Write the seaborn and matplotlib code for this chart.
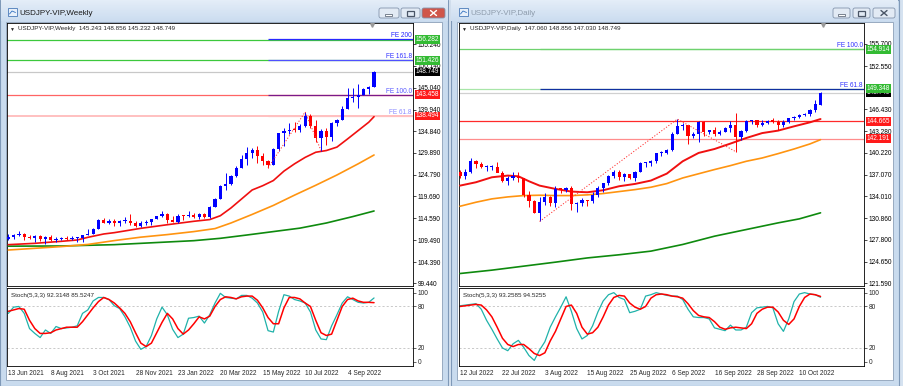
import numpy as np
import pandas as pd
import matplotlib
matplotlib.use("Agg")
import matplotlib.pyplot as plt
import seaborn as sns
from matplotlib.patches import Rectangle, FancyBboxPatch
from matplotlib.colors import LinearSegmentedColormap

sns.set_style("white")
plt.rcParams['font.family'] = ['Liberation Sans', 'DejaVu Sans']

# ==========================================
# weekly chart data (USDJPY-VIP, Weekly)
# ==========================================
W_OPEN = [109.66, 110.21, 110.76, 111.05, 110.14, 110.07, 110.55, 109.71, 110.22, 109.58,
          109.78, 109.84, 109.71, 109.93, 109.93, 110.73, 111.05, 112.21, 114.21, 113.50,
          114.00, 113.40, 113.86, 114.00, 113.40, 112.80, 113.40, 113.70, 114.40, 115.10,
          115.55, 114.20, 113.70, 115.25, 115.20, 115.40, 115.00, 115.55, 114.80, 117.30,
          119.20, 122.05, 122.50, 124.35, 126.40, 128.50, 129.80, 130.55, 129.20, 127.85,
          127.10, 130.85, 134.40, 134.98, 135.22, 135.20, 136.10, 138.55, 136.10, 133.27,
          135.00, 133.48, 136.90, 137.60, 140.20, 142.55, 142.90, 143.40, 144.70, 145.243]
W_HIGH = [110.82, 110.98, 111.66, 111.10, 110.70, 110.59, 110.60, 110.37, 110.80, 110.25,
          110.25, 110.42, 110.45, 110.15, 110.79, 112.08, 112.25, 114.47, 114.70, 114.32,
          114.45, 114.20, 114.97, 115.52, 113.90, 113.95, 114.26, 114.51, 115.20, 116.35,
          115.84, 115.06, 115.69, 115.40, 116.34, 115.80, 115.73, 115.81, 117.36, 119.40,
          122.44, 125.10, 124.70, 126.68, 129.40, 131.25, 131.00, 131.35, 129.77, 128.10,
          130.99, 134.56, 135.59, 136.71, 137.00, 136.57, 139.39, 138.88, 137.46, 135.50,
          135.58, 137.00, 137.70, 140.80, 144.99, 144.96, 145.90, 144.93, 145.43, 148.856]
W_LOW = [109.55, 109.72, 110.42, 109.53, 109.72, 109.07, 109.36, 108.72, 109.42, 109.11,
         109.57, 109.58, 109.59, 109.11, 109.11, 110.60, 110.82, 112.10, 113.41, 113.26,
         112.73, 112.72, 113.59, 113.06, 112.53, 112.60, 113.15, 113.12, 114.36, 115.00,
         113.48, 113.64, 113.47, 114.16, 114.90, 114.56, 114.40, 114.65, 114.70, 117.25,
         119.00, 121.20, 122.40, 124.30, 126.30, 126.95, 128.60, 127.50, 126.95, 126.36,
         127.10, 130.40, 131.49, 134.27, 134.75, 134.82, 136.00, 135.60, 132.50, 130.39,
         131.73, 132.56, 136.10, 137.60, 140.10, 141.70, 140.35, 143.30, 143.50, 145.232]
W_CLOSE = [110.21, 110.78, 111.05, 110.14, 110.07, 110.55, 109.71, 110.22, 109.58, 109.78,
           109.84, 109.71, 109.93, 109.93, 110.73, 111.05, 112.21, 114.21, 113.50, 114.00,
           113.40, 113.86, 114.00, 113.40, 112.80, 113.40, 113.70, 114.40, 115.10, 115.55,
           114.20, 113.70, 115.25, 115.20, 115.40, 115.00, 115.55, 114.80, 117.30, 119.20,
           122.05, 122.50, 124.35, 126.40, 128.50, 129.80, 130.55, 129.20, 127.85, 127.10,
           130.85, 134.40, 134.98, 135.22, 135.20, 136.10, 138.55, 136.10, 133.27, 135.00,
           133.48, 136.90, 137.60, 140.20, 142.55, 142.90, 143.40, 144.70, 145.24, 148.749]

W_MA_RED_BAR = [0, 5, 10, 13, 15, 18, 20, 25, 30, 35, 38, 40, 42, 44, 46, 48, 50, 52, 54, 56,
                58, 60, 62, 64, 66, 68, 69]
W_MA_RED = [108.45, 108.76, 109.23, 109.54, 110.16, 110.94, 111.25, 112.26, 113.10, 113.90,
            114.30, 115.20, 117.00, 119.10, 121.20, 122.20, 123.40, 125.60, 127.30, 128.80,
            130.00, 130.40, 131.20, 133.10, 135.05, 137.00, 138.30]
W_MA_ORANGE_BAR = [0, 5, 10, 15, 20, 25, 30, 35, 39, 42, 46, 50, 54, 58, 62, 66, 69]
W_MA_ORANGE = [107.20, 107.60, 108.00, 108.50, 109.40, 110.20, 110.80, 111.50, 112.20, 113.50,
               115.50, 117.60, 120.00, 122.30, 124.70, 127.30, 129.36]
W_MA_GREEN_BAR = [0, 10, 15, 20, 25, 30, 35, 40, 45, 50, 55, 60, 65, 69]
W_MA_GREEN = [108.10, 108.14, 108.30, 108.45, 108.76, 109.07, 109.38, 109.93, 110.70, 111.50,
              112.30, 113.50, 115.00, 116.30]

W_STOCH_K = [70, 79, 80, 70, 48, 41, 35, 46, 41, 51, 48, 49, 50, 52, 70, 75, 88, 93, 93, 90,
             81, 77, 65, 50, 30, 18, 22, 38, 62, 79, 68, 47, 35, 40, 63, 64, 66, 56, 68, 85,
             99, 93, 92, 91, 96, 96, 92, 85, 72, 45, 43, 73, 97, 95, 90, 88, 85, 72, 46, 33,
             32, 52, 68, 85, 94, 90, 86, 85, 86, 92.3]
W_STOCH_D = [73, 75, 77, 76, 60, 48, 41, 41, 42, 46, 48, 50, 50, 50, 58, 68, 78, 87, 93, 90,
             85, 78, 70, 58, 42, 27, 22, 27, 42, 57, 70, 62, 48, 40, 46, 55, 65, 62, 66, 80,
             90, 94, 93, 91, 94, 95, 95, 89, 78, 64, 55, 55, 78, 93, 93, 91, 85, 80, 60, 42,
             38, 40, 60, 80, 90, 92, 88, 86, 86, 85.5]

W_DATE_BAR = [0, 8, 16, 24, 32, 40, 48, 56, 64]
W_DATE_LABELS = ["13 Jun 2021", "8 Aug 2021", "3 Oct 2021", "28 Nov 2021", "23 Jan 2022",
                 "20 Mar 2022", "15 May 2022", "10 Jul 2022", "4 Sep 2022"]
W_YTICKS = [155.240, 150.140, 145.040, 139.940, 134.840, 129.890, 124.790, 119.690,
            114.590, 109.490, 104.390, 99.440]
W_LEVELS = [156.282, 151.426, 148.749, 143.458, 138.494]
W_LEVEL_COLORS = ['#3CC83C', '#3CC83C', '#C8C8C8', '#FF6464', '#FFC0C0']
W_LEVEL_BOX = ['#33BB33', '#33BB33', '#000000', '#FF1A1A', '#FF1A1A']
W_FE_NAMES = ["FE 200", "FE 161.8", "FE 100.0", "FE 61.8"]
W_FE_PRICES = [156.45, 151.62, 143.458, 138.494]
W_FE_COLORS = ['#2828FF', '#5050FF', '#7A1A8A', '#FFC0C0']
W_FE_TEXT = ['#2020FF', '#3030FF', '#5858FF', '#8C8CFF']
W_ABC_BAR = [49, 56, 59]
W_ABC_PRICE = [126.36, 139.39, 130.39]

# ==========================================
# daily chart data (USDJPY-VIP, Daily)
# ==========================================
D_OPEN = [137.44, 136.87, 137.40, 138.96, 138.54, 138.16, 138.21, 138.21, 137.36, 136.11,
          136.63, 136.95, 136.54, 134.24, 133.28, 131.62, 133.17, 133.88, 133.03, 135.00,
          134.95, 135.10, 132.90, 132.97, 133.45, 133.30, 134.20, 135.10, 135.87, 136.90,
          137.48, 136.77, 137.10, 136.60, 137.50, 138.70, 138.76, 138.97, 140.20, 140.20,
          140.60, 142.80, 144.00, 144.10, 142.60, 142.80, 144.60, 143.20, 143.50, 142.90,
          143.20, 143.70, 144.10, 142.40, 143.30, 144.70, 144.80, 144.10, 144.40, 144.80,
          144.55, 144.10, 144.60, 145.10, 145.30, 145.60, 145.70, 146.30, 147.060]
D_HIGH = [137.75, 137.86, 139.39, 139.09, 138.87, 138.40, 138.43, 138.88, 137.60, 136.90,
          137.46, 137.45, 136.60, 134.70, 133.40, 133.90, 134.40, 134.10, 135.50, 135.20,
          135.30, 135.40, 133.20, 133.80, 133.50, 134.65, 135.40, 135.90, 137.00, 137.70,
          137.70, 137.30, 137.20, 137.60, 138.90, 138.90, 139.10, 140.20, 140.40, 140.80,
          143.10, 144.99, 144.50, 144.20, 143.10, 144.70, 144.70, 143.50, 143.80, 143.40,
          143.80, 144.70, 145.90, 143.50, 144.80, 144.90, 144.90, 144.80, 144.90, 145.10,
          144.90, 144.90, 145.20, 145.40, 145.70, 145.90, 146.40, 147.66, 148.856]
D_LOW = [136.53, 136.40, 137.31, 138.07, 137.96, 137.59, 137.70, 137.46, 135.97, 135.66,
         136.35, 136.00, 133.90, 132.50, 131.60, 130.40, 132.80, 132.60, 132.50, 134.40,
         134.60, 132.00, 131.73, 132.55, 132.56, 133.10, 133.90, 134.65, 135.60, 136.60,
         136.30, 136.20, 136.40, 136.10, 137.40, 138.10, 138.30, 138.80, 139.70, 140.00,
         140.40, 142.80, 143.40, 141.50, 142.30, 141.70, 142.60, 142.80, 142.60, 142.70,
         143.10, 143.20, 140.35, 142.00, 143.20, 144.30, 143.90, 144.00, 144.30, 144.40,
         143.50, 143.90, 144.50, 144.80, 145.20, 145.40, 145.50, 146.00, 147.030]
D_CLOSE = [136.87, 137.40, 138.96, 138.54, 138.16, 138.21, 138.21, 137.36, 136.11, 136.63,
           136.95, 136.54, 134.24, 133.28, 131.62, 133.17, 133.88, 133.03, 135.00, 134.95,
           135.10, 132.90, 132.97, 133.45, 133.30, 134.20, 135.10, 135.87, 136.90, 137.48,
           136.77, 137.10, 136.60, 137.50, 138.70, 138.76, 138.97, 140.20, 140.20, 140.60,
           142.80, 144.00, 144.10, 142.60, 142.80, 144.60, 143.20, 143.50, 142.90, 143.20,
           143.70, 144.10, 142.40, 143.30, 144.70, 144.80, 144.10, 144.40, 144.70, 144.55,
           144.10, 144.60, 145.10, 145.30, 145.60, 145.70, 146.30, 147.10, 148.749]

D_MA_RED_BAR = [0, 3, 6, 9, 11, 13, 15, 18, 21, 24, 27, 30, 33, 36, 39, 42, 45, 48, 51, 54,
                57, 60, 63, 66, 68]
D_MA_RED = [135.51, 135.99, 136.70, 136.94, 136.84, 136.13, 135.51, 135.04, 134.66, 134.56,
            134.85, 135.42, 135.75, 136.23, 137.22, 138.98, 140.17, 140.73, 141.50, 142.30,
            143.00, 143.35, 143.96, 144.53, 145.00]
D_MA_ORANGE_BAR = [0, 3, 6, 9, 12, 15, 18, 21, 24, 27, 30, 33, 36, 39, 42, 45, 48, 51, 54,
                   57, 60, 63, 66, 68]
D_MA_ORANGE = [132.57, 133.14, 133.62, 133.90, 134.09, 134.14, 134.09, 134.09, 134.19, 134.38,
               134.66, 134.94, 135.28, 135.80, 136.60, 137.20, 137.80, 138.36, 138.98, 139.45,
               140.07, 140.73, 141.45, 142.06]
D_MA_GREEN_BAR = [0, 6, 12, 18, 24, 30, 36, 42, 48, 54, 60, 64, 68]
D_MA_GREEN = [122.98, 123.46, 124.03, 124.60, 125.20, 125.65, 126.17, 127.12, 128.30, 129.25,
              130.20, 130.77, 131.63]

D_STOCH_K = [81, 82, 83, 84, 76, 60, 47, 33, 20, 16, 26, 31, 21, 9, 2, 17, 29, 50, 65, 79,
             94, 73, 48, 33, 38, 52, 72, 88, 97, 100, 93, 90, 71, 73, 76, 95, 97, 100, 98, 96,
             95, 95, 90, 76, 65, 64, 64, 62, 49, 47, 45, 53, 46, 46, 50, 71, 78, 79, 80, 78,
             55, 44, 62, 87, 98, 100, 98, 97, 93.26]
D_STOCH_D = [80, 81, 82, 83, 82, 75, 65, 50, 34, 25, 22, 25, 25, 19, 12, 9, 13, 30, 44, 62,
             80, 82, 70, 50, 40, 42, 50, 65, 82, 93, 96, 95, 85, 79, 76, 80, 92, 97, 98, 97,
             95, 94, 92, 84, 74, 67, 65, 64, 58, 50, 47, 49, 50, 49, 48, 55, 70, 76, 79, 79,
             72, 60, 54, 62, 80, 93, 98, 97, 94.5]

D_DATE_BAR = [0, 8, 16, 24, 32, 40, 48, 56, 64]
D_DATE_LABELS = ["12 Jul 2022", "22 Jul 2022", "3 Aug 2022", "15 Aug 2022", "25 Aug 2022",
                 "6 Sep 2022", "16 Sep 2022", "28 Sep 2022", "10 Oct 2022"]
D_YTICKS = [155.700, 152.550, 146.430, 143.280, 140.220, 137.070, 134.010,
            130.860, 127.800, 124.650, 121.590]
D_LEVELS = [154.914, 149.348, 148.749, 144.665, 142.191]
D_LEVEL_COLORS = ['#6ED26E', '#A8E6A8', '#D0D0D0', '#FF2A2A', '#FF8C8C']
D_LEVEL_BOX = ['#33BB33', '#33BB33', '#000000', '#FF1A1A', '#FF1A1A']
D_FE_NAMES = ["FE 100.0", "FE 61.8"]
D_FE_PRICES = [154.914, 149.348]
D_FE_COLORS = ['#6ED26E', '#1030A0']
D_FE_TEXT = ['#3030FF', '#3030FF']
D_ABC_BAR = [15, 41, 52]
D_ABC_PRICE = [130.40, 144.99, 140.35]

# ==========================================
# layout (pixels of the 904x386 screenshot)
# ==========================================
W_PX, H_PX = 904, 386
FS = 4.7
BULL, BEAR = '#0000FF', '#FF0000'


def rect_px(x0, y0, x1, y1):
    return [x0 / W_PX, 1 - y1 / H_PX, (x1 - x0) / W_PX, (y1 - y0) / H_PX]


def draw_candles(ax, o, h, l, c, min_body):
    o, h, l, c = (np.asarray(v, float) for v in (o, h, l, c))
    x = np.arange(len(o))
    col = np.where(c >= o, BULL, BEAR)
    ax.vlines(x, l, h, colors=col, linewidth=0.7, zorder=4)
    body = np.maximum(np.abs(c - o), min_body)
    ax.bar(x, body, bottom=np.minimum(o, c), width=0.6, color=col, linewidth=0, zorder=5)


def draw_ma(ax, bars, vals, color, lw):
    df = pd.DataFrame({'bar': bars, 'ma': vals})
    sns.lineplot(data=df, x='bar', y='ma', ax=ax, color=color, linewidth=lw,
                 estimator=None, legend=False, zorder=3)


def style_main(ax, xlim, ylim, yticks):
    ax.set_xlim(*xlim)
    ax.set_ylim(*ylim)
    ax.set_xticks([])
    ax.set_yticks(yticks)
    ax.set_yticklabels([f"{v:.3f}" for v in yticks])
    ax.yaxis.tick_right()
    ax.tick_params(axis='y', length=2, width=0.5, pad=1.2, labelsize=FS, colors='black')
    ax.set_xlabel('')
    ax.set_ylabel('')
    for s in ax.spines.values():
        s.set_color('black')
        s.set_linewidth(0.6)


def draw_levels(ax, xlim, levels, colors, boxes, fe_names, fe_prices, fe_colors, fe_text,
                abc_bar, abc_price):
    for p, c in zip(levels, colors):
        lw = 1.4 if c == '#FFC0C0' else 0.9
        ax.axhline(p, color=c, linewidth=lw, zorder=1)
    for p, c in zip(fe_prices, fe_colors):
        ax.hlines(p, abc_bar[0], xlim[1], color=c, linewidth=0.9, zorder=2)
    for name, p, c in zip(fe_names, fe_prices, fe_text):
        ax.text(0.997, p, name, transform=ax.get_yaxis_transform(), ha='right', va='bottom',
                fontsize=FS, color=c, zorder=6)
    ax.plot(abc_bar, abc_price, color='#FF3030', linewidth=0.7, linestyle=(0, (1.2, 1.8)),
            zorder=6)
    for p, c in zip(levels, boxes):
        # the black price box sits under the coloured ones, as in the terminal
        z = 19 if c == '#000000' else 20
        ax.text(1.006, p, f"{p:.3f}", transform=ax.get_yaxis_transform(), ha='left',
                va='center', fontsize=FS, color='white', clip_on=False, zorder=z,
                bbox=dict(boxstyle='square,pad=0.12', fc=c, ec='none'))
    ax.plot([0.899], [0.994], marker='v', color='#9A9A9A', markersize=2.6,
            transform=ax.transAxes, clip_on=False, zorder=20)


def draw_stoch(ax, xlim, k, d, label, date_bar, date_labels):
    bars = np.arange(len(k))
    ax.axhline(80, color='#B4B4B4', linewidth=0.5, linestyle=(0, (3, 3)))
    ax.axhline(20, color='#B4B4B4', linewidth=0.5, linestyle=(0, (3, 3)))
    sns.lineplot(x=bars, y=k, ax=ax, color='#20B2AA', linewidth=0.9, estimator=None,
                 legend=False)
    sns.lineplot(x=bars, y=d, ax=ax, color='#FF0000', linewidth=1.1, estimator=None,
                 legend=False)
    ax.set_xlim(*xlim)
    ax.set_ylim(-6.1, 106.7)
    ax.set_yticks([0, 20, 80, 100])
    ax.set_yticklabels(['0', '20', '80', '100'])
    ax.yaxis.tick_right()
    ax.set_xticks(date_bar)
    ax.set_xticklabels(date_labels, ha='left')
    ax.tick_params(axis='y', length=2, width=0.5, pad=1.2, labelsize=FS)
    ax.tick_params(axis='x', length=2, width=0.5, pad=1.0, labelsize=FS)
    ax.set_xlabel('')
    ax.set_ylabel('')
    for s in ax.spines.values():
        s.set_color('black')
        s.set_linewidth(0.6)
    ax.text(0.01, 0.93, label, transform=ax.transAxes, ha='left', va='top', fontsize=FS - 0.2)


def window_chrome(bg, x0, x1, title, active, btns):
    bg.add_patch(Rectangle((x0, 0), x1 - x0, 386, fc='#C9DBEE', ec='#7F99B8', lw=0.8))
    grad = np.linspace(0, 1, 20).reshape(-1, 1)
    cmap = LinearSegmentedColormap.from_list('t', ['#E4EDF8', '#CCDDF0'])
    bg.imshow(grad, extent=(x0 + 0.5, x1 - 0.5, 21, 0.5), cmap=cmap, aspect='auto', zorder=1)
    bg.add_patch(Rectangle((x0 + 6, 22), x1 - x0 - 12, 358, fc='white', ec='#8CA0B8', lw=0.6,
                           zorder=2))
    # little chart icon
    bg.add_patch(Rectangle((x0 + 8, 8), 9, 8, fc='#E8F0FA', ec='#4A7AB8', lw=0.6, zorder=3))
    bg.plot([x0 + 9.5, x0 + 12, x0 + 15.5], [14, 11, 12.5], color='#3070C0', lw=0.6, zorder=4)
    bg.text(x0 + 19, 13.5, title, fontsize=5.8, va='center', ha='left',
            color='#1A1A1A' if active else '#8E9CAC', zorder=4)
    for i, (bx0, bx1) in enumerate(btns):
        is_close = i == 2
        fc = '#D0564A' if (is_close and active) else '#E2EAF4'
        bg.add_patch(FancyBboxPatch((bx0, 8), bx1 - bx0, 10,
                                    boxstyle='round,pad=0,rounding_size=2',
                                    fc=fc, ec='#8394AC', lw=0.6, zorder=3))
        cx = (bx0 + bx1) / 2
        gcol = 'white' if (is_close and active) else '#4A5566'
        if i == 0:
            bg.add_patch(Rectangle((cx - 3.5, 13.5), 7, 2, fc='white', ec=gcol, lw=0.5, zorder=4))
        elif i == 1:
            bg.add_patch(Rectangle((cx - 3.5, 10.5), 7, 5.5, fc='none', ec=gcol, lw=0.9, zorder=4))
        else:
            bg.plot([cx - 3, cx + 3], [10.5, 15.5], color=gcol, lw=1.0, zorder=4)
            bg.plot([cx - 3, cx + 3], [15.5, 10.5], color=gcol, lw=1.0, zorder=4)


fig = plt.figure(figsize=(W_PX / 100, H_PX / 100), dpi=100)
bg = fig.add_axes([0, 0, 1, 1])
bg.set_xlim(0, W_PX)
bg.set_ylim(H_PX, 0)
bg.axis('off')
bg.add_patch(Rectangle((0, 0), W_PX, H_PX, fc='#D5E2F0', ec='none', zorder=0))
window_chrome(bg, 0, 448, "USDJPY-VIP,Weekly", True, [(379, 399), (401, 420), (422, 445)])
window_chrome(bg, 451, 899, "USDJPY-VIP,Daily", False, [(833, 850), (853, 870), (873, 895)])

# ---- weekly window ----
W_XLIM = (-0.25, 76.35)
W_YLIM = (98.81, 160.14)
axw = fig.add_axes(rect_px(7, 23, 413, 286))
axw.set_facecolor('white')
draw_levels(axw, W_XLIM, W_LEVELS, W_LEVEL_COLORS, W_LEVEL_BOX, W_FE_NAMES, W_FE_PRICES,
            W_FE_COLORS, W_FE_TEXT, W_ABC_BAR, W_ABC_PRICE)
draw_ma(axw, W_MA_GREEN_BAR, W_MA_GREEN, '#0E8A0E', 1.2)
draw_ma(axw, W_MA_ORANGE_BAR, W_MA_ORANGE, '#FF9410', 1.2)
draw_ma(axw, W_MA_RED_BAR, W_MA_RED, '#F01010', 1.2)
draw_candles(axw, W_OPEN, W_HIGH, W_LOW, W_CLOSE, 0.25)
style_main(axw, W_XLIM, W_YLIM, W_YTICKS)
axw.text(0.008, 0.985, "\u25BC", transform=axw.transAxes, fontsize=3.6, va='top', ha='left')
axw.text(0.027, 0.988, "USDJPY-VIP,Weekly  145.243 148.856 145.232 148.749",
         transform=axw.transAxes, fontsize=FS - 0.2, va='top', ha='left')

axws = fig.add_axes(rect_px(7, 288, 413, 366))
draw_stoch(axws, W_XLIM, W_STOCH_K, W_STOCH_D, "Stoch(5,3,3) 92.3148 85.5247",
           W_DATE_BAR, W_DATE_LABELS)

# ---- daily window ----
D_XLIM = (-0.2, 76.2)
D_YLIM = (121.20, 158.69)
axd = fig.add_axes(rect_px(459, 23, 864, 286))
draw_levels(axd, D_XLIM, D_LEVELS, D_LEVEL_COLORS, D_LEVEL_BOX, D_FE_NAMES, D_FE_PRICES,
            D_FE_COLORS, D_FE_TEXT, D_ABC_BAR, D_ABC_PRICE)
draw_ma(axd, D_MA_GREEN_BAR, D_MA_GREEN, '#0E8A0E', 1.2)
draw_ma(axd, D_MA_ORANGE_BAR, D_MA_ORANGE, '#FF9410', 1.2)
draw_ma(axd, D_MA_RED_BAR, D_MA_RED, '#F01010', 1.4)
draw_candles(axd, D_OPEN, D_HIGH, D_LOW, D_CLOSE, 0.15)
style_main(axd, D_XLIM, D_YLIM, D_YTICKS)
axd.text(0.008, 0.985, "\u25BC", transform=axd.transAxes, fontsize=3.6, va='top', ha='left')
axd.text(0.027, 0.988, "USDJPY-VIP,Daily  147.060 148.856 147.030 148.749",
         transform=axd.transAxes, fontsize=FS - 0.2, va='top', ha='left')

axds = fig.add_axes(rect_px(459, 288, 864, 366))
draw_stoch(axds, D_XLIM, D_STOCH_K, D_STOCH_D, "Stoch(5,3,3) 93.2585 94.5255",
           D_DATE_BAR, D_DATE_LABELS)

fig.savefig("out.png", dpi=100)
